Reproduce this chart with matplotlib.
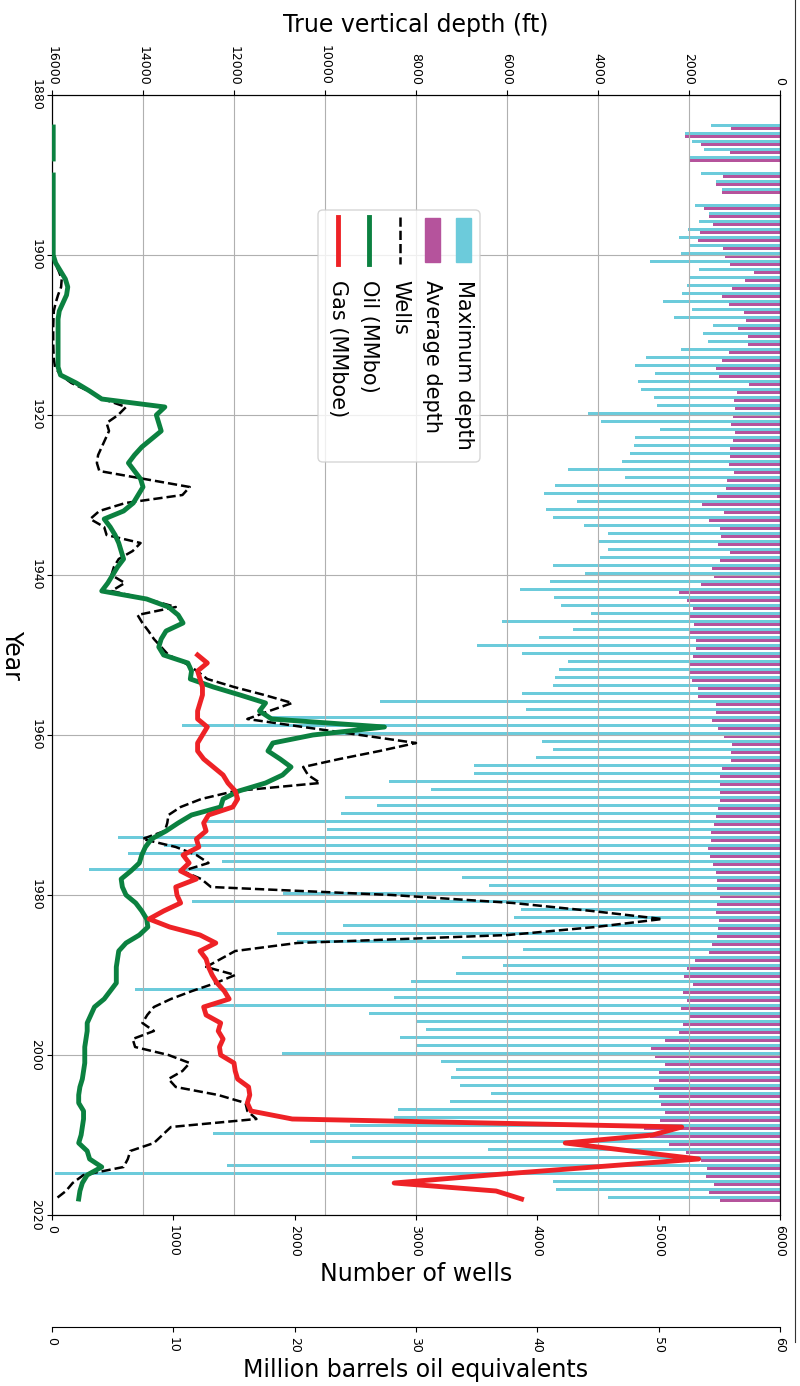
import numpy as np
import matplotlib.pyplot as plt
from matplotlib.patches import FancyBboxPatch, Rectangle
from matplotlib.lines import Line2D

nan = np.nan

# ---- data ----
years = np.arange(1884, 2019)

max_depth = [1510, 2080, 1940, 1680, 1980, nan, 1730, 1400, 1280, nan, 1870, 1560, 1790, 2020, 2230, 1980,
             2170, 2850, 1770, 1980, 2050, 2160, 2580, 1930, 2330, 1480,
             1690, 1590, 2170, 2950, 3190, 2740, 3130, 3050, 2770, 2710,
             4210, 3930, 2640, 3190, 3210, 3290, 3470, 4670, 3400, 4950,
             5180, 4460, 5150, 4980, 4300, 3770, 3970, 3790, 3950, 4980,
             4280, 5060, 5720, 4960, 4820, 4160, 6110, 4540, 5290, 6660,
             5670, 4670, 4860, 4950, 5000, 5670, 8800, 5590, 11260, 13140,
             9980, 5240, 4980, 5360, 6720, 6720, 8600, 7660, 9570, 8850,
             9650, 12590, 9960, 14550, 13530, 14340, 12260, 15180, 6980, 6390,
             10920, 12930, 5690, 5840, 9610, 11060, 10610, 5640, 7000, 6080,
             7110, 8120, 14170, 8490, 12480, 9030, 7990, 7780, 8360, 7990,
             10940, 7460, 7120, 7240, 7030, 6360, 7260, 8390, 8490, 9450,
             12460, 10320, 6410, 9410, 12150, 15940, 5000, 4930, 3780]

avg_depth = [1070, 2080, 1740, 1100, 1980, nan, 1250, 1400, 1280, nan, 1670, 1560, 1480, 1750, 1800, 1260,
             1200, 1100, 570, 760, 1050, 1270, 1120, 800, 750, 930,
             700, 710, 1130, 1280, 1400, 1340, 690, 940, 1010, 980,
             1040, 1080, 990, 1040, 1090, 1090, 1120, 1020, 1170, 1190,
             1390, 1720, 1240, 1560, 1320, 1290, 1360, 1090, 1310, 1490,
             1440, 1740, 2220, 2040, 1920, 1990, 1880, 1970, 1840, 1840,
             1920, 2010, 2000, 1930, 1810, 1800, 1410, 1410, 1500, 1370,
             1230, 1050, 1070, 1070, 1280, 1320, 1310, 1320, 1320, 1360,
             1400, 1440, 1510, 1510, 1580, 1540, 1480, 1400, 1380, 1380,
             1310, 1390, 1400, 1330, 1360, 1390, 1500, 1560, 1870, 2040,
             2110, 1920, 2140, 2040, 2170, 2000, 2130, 2230, 2520, 2830,
             2750, 2530, 2650, 2650, 2770, 2650, 2610, 2520, 2630, 3000,
             2860, 2430, 2060, 1730, 1610, 1630, 1440, 1560, 1310]

wells = [5, 8, 6, 5, 6, nan, 5, 6, 5, 4, 6, 5, 8, 10, 12, 10,
         10, 25, 55, 80, 75, 50, 30, 15, 12, 10,
         10, 10, 12, 15, 25, 70, 160, 300, 420, 610,
         545, 450, 470, 440, 410, 380, 370, 390, 760, 1135,
         1075, 605, 390, 315, 430, 450, 730, 665, 550, 510,
         490, 600, 490, 780, 1020, 705, 745, 795, 840, 900,
         960, 1095, 1195, 1280, 1500, 1750, 1980, 1790, 1610, 2070,
         2540, 3000, 2700, 2370, 2070, 2110, 2210, 1510, 1230, 1060,
         960, 950, 930, 745, 1020, 1190, 1290, 1075, 1230, 1310,
         2800, 3800, 4450, 5030, 4480, 3760, 2020, 1510, 1390, 1270,
         1510, 1350, 1155, 980, 840, 785, 745, 840, 665, 685,
         960, 1135, 1075, 960, 1020, 1370, 1595, 1610, 1685, 980,
         910, 840, 645, 625, 590, 260, 170, 115, 30]

oil = [0.1, 0.1, 0.1, 0.1, 0.1, nan, 0.1, 0.1, 0.1, 0.1, 0.1, 0.1, 0.1, 0.1, 0.1, 0.1,
       0.1, 0.3, 0.7, 1.1, 1.3, 1.2, 0.9, 0.6, 0.5, 0.5,
       0.5, 0.5, 0.5, 0.5, 0.5, 0.7, 2.0, 3.1, 4.1, 9.3,
       8.6, 8.8, 9.0, 8.2, 7.4, 6.8, 6.3, 6.8, 7.3, 7.5,
       7.1, 6.7, 5.9, 4.3, 4.8, 5.2, 5.5, 5.7, 5.9, 5.4,
       5.0, 4.6, 4.1, 7.8, 9.6, 10.4, 10.8, 9.4, 9.0, 8.8,
       9.2, 11.2, 11.5, 11.4, 13.3, 15.5, 17.6, 17.1, 18.1, 27.4,
       21.5, 18.2, 17.8, 18.8, 19.7, 19.0, 17.6, 15.4, 14.1, 13.9,
       11.5, 10.4, 9.4, 8.2, 7.7, 7.4, 7.2, 6.5, 5.7, 5.8,
       6.1, 6.9, 7.4, 7.8, 7.9, 7.2, 6.1, 5.5, 5.4, 5.3,
       5.3, 5.3, 4.8, 4.3, 3.5, 3.2, 2.9, 2.9, 2.8, 2.7,
       2.7, 2.7, 2.6, 2.5, 2.3, 2.2, 2.2, 2.6, 2.6, 2.5,
       2.4, 2.2, 2.9, 3.1, 4.1, 2.9, 2.5, 2.3, 2.2]

gas_years = np.arange(1950, 2019)
gas = [12.0, 12.8, 12.0, 12.2, 12.4, 12.4, 12.2, 12.0, 12.0, 12.8,
       12.4, 12.0, 12.0, 12.5, 13.3, 14.1, 14.5, 15.1, 15.3, 14.9,
       12.9, 12.5, 12.7, 11.9, 12.1, 10.8, 11.3, 10.6, 11.9, 10.2,
       10.3, 10.6, 9.2, 8.0, 9.7, 12.2, 13.5, 12.2, 12.7, 12.9,
       13.2, 13.6, 14.2, 14.6, 12.5, 12.7, 13.9, 13.7, 14.1, 13.8,
       13.9, 15.0, 15.1, 15.3, 16.2, 16.3, 16.1, 16.4, 19.8, 51.9,
       49.5, 42.3, 47.7, 53.3, 44.7, 36.1, 28.2, 36.6, 38.7]

c_max = '#6ccbdb'
c_avg = '#b5539c'
c_oil = '#0b8140'
c_gas = '#ee2226'

W, H = 800, 1386
def fx(px):
    return px / W
def fy(py):
    return 1 - py / H

fig = plt.figure(figsize=(W / 100, H / 100), dpi=100)
ax = fig.add_axes([fx(52), fy(1215), 728 / W, 1120 / H])   # wells
ax.patch.set_visible(False)
axd = ax.twiny()   # depth (top)
axm = ax.twiny()   # million barrels (offset bottom)
axd.set_zorder(0)
ax.set_zorder(1)
axm.set_zorder(2)

# depth bars
axd.barh(years - 0.2, max_depth, height=0.4, color=c_max)
axd.barh(years + 0.2, avg_depth, height=0.4, color=c_avg)
axd.set_xlim(16000, 0)
axd.set_xticks(np.arange(0, 16001, 2000))
axd.grid(axis='x')
axd.set_xlabel('True vertical depth (ft)', fontsize=17, labelpad=10)

# wells
ax.plot(wells, years, 'k--', lw=1.8)
ax.set_xlim(0, 6000)
ax.set_xticks(np.arange(0, 6001, 1000))
ax.set_ylim(2020, 1880)
ax.set_yticks(np.arange(1880, 2021, 20))
ax.grid(axis='y')
ax.set_xlabel('Number of wells', fontsize=17)

# oil and gas
axm.plot(oil, years, color=c_oil, lw=3.5)
axm.plot(gas, gas_years, color=c_gas, lw=3.5)
axm.set_xlim(0, 60)
axm.xaxis.set_ticks_position('bottom')
axm.xaxis.set_label_position('bottom')
axm.spines['bottom'].set_position(('outward', 80.6))
for s in ['top', 'left', 'right']:
    axm.spines[s].set_visible(False)
axm.set_xlabel('Million barrels oil equivalents', fontsize=17)

for a in (ax, axd, axm):
    a.tick_params(labelsize=9, labelrotation=-90)
for lbl in ax.get_yticklabels():
    lbl.set_va('center')

fig.text(fx(12), fy(655), 'Year', rotation=-90, ha='center', va='center', fontsize=17)

# legend drawn by hand, rotated like the rest of the chart
box = FancyBboxPatch((fx(318), fy(462)), 162 / W, 252 / H,
                     boxstyle='round,pad=0,rounding_size=0.006', mutation_aspect=W / H,
                     transform=fig.transFigure, facecolor='white', edgecolor='#cccccc',
                     alpha=0.8, lw=1, zorder=10)
fig.add_artist(box)
for xc, col in [(463.5, c_max), (432, c_avg)]:
    fig.add_artist(Rectangle((fx(xc - 7.5), fy(262)), 15 / W, 44 / H,
                             transform=fig.transFigure, color=col, zorder=11))
fig.add_artist(Line2D([fx(400)] * 2, [fy(217), fy(264)], color='k', ls='--', lw=1.8,
                      transform=fig.transFigure, zorder=11))
fig.add_artist(Line2D([fx(369)] * 2, [fy(217), fy(264)], color=c_oil, lw=3.5,
                      transform=fig.transFigure, zorder=11))
fig.add_artist(Line2D([fx(338)] * 2, [fy(217), fy(264)], color=c_gas, lw=3.5,
                      transform=fig.transFigure, zorder=11))
labels = ['Maximum depth', 'Average depth', 'Wells', 'Oil (MMbo)', 'Gas (MMboe)']
for xc, txt in zip([464, 432, 400, 369, 338], labels):
    fig.text(fx(xc), fy(280), txt, rotation=-90, ha='center', va='top', fontsize=15, zorder=12)

# thin frame line on the right edge
fig.add_artist(Line2D([fx(795)] * 2, [fy(0), fy(1342)], color='#333333', lw=0.8,
                      transform=fig.transFigure))

fig.savefig('out.png', dpi=100)
